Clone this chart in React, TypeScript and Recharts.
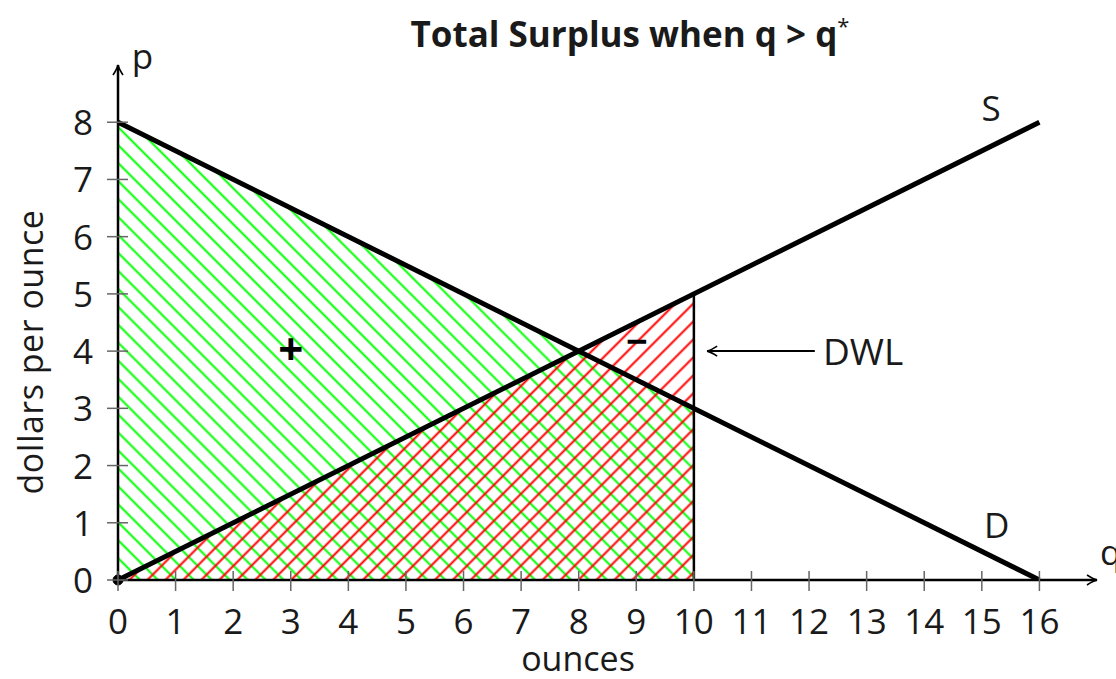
import { ComposedChart, Line, Area, XAxis, YAxis, ReferenceDot } from "recharts";

// demand / supply schedules (q = ounces, p = dollars per ounce)
const DEMAND = [
  { q: 0, p: 8 },
  { q: 16, p: 0 },
];
const SUPPLY = [
  { q: 0, p: 0 },
  { q: 16, p: 8 },
];
// area under demand up to q = 10 (benefit, green hatch)
const BENEFIT = [
  { q: 0, p: 8 },
  { q: 10, p: 3 },
];
// area under supply up to q = 10 (cost, red hatch)
const COST = [
  { q: 0, p: 0 },
  { q: 10, p: 5 },
];
const Q_MARK = [
  { q: 10, p: 0 },
  { q: 10, p: 5 },
];
const DWL_ARROW = [
  { q: 12.1, p: 4 },
  { q: 10.23, p: 4 },
];

const Q_TICKS = [0, 1, 2, 3, 4, 5, 6, 7, 8, 9, 10, 11, 12, 13, 14, 15, 16];
const P_TICKS = [0, 1, 2, 3, 4, 5, 6, 7, 8];

const FONT = "'Open Sans', sans-serif";
const INK = "#1a1a1a";

const XTick = (props: any) => {
  const { x, y, payload } = props;
  return (
    <g>
      <line x1={x} x2={x} y1={y - 9} y2={y + 11} stroke="#666" strokeWidth={1.5} />
      <text x={x} y={y + 54} textAnchor="middle" fontSize={35} fontFamily={FONT} fill={INK}>
        {payload.value}
      </text>
    </g>
  );
};

const YTick = (props: any) => {
  const { x, y, payload } = props;
  return (
    <g>
      <line x1={x - 11} x2={x + 10} y1={y} y2={y} stroke="#666" strokeWidth={1.5} />
      <text x={x - 25} y={y + 13} textAnchor="end" fontSize={35} fontFamily={FONT} fill={INK}>
        {payload.value}
      </text>
    </g>
  );
};

const textShape = (value: string, anchor: string, opts: any = {}) => (p: any) => (
  <text
    x={p.cx}
    y={p.cy}
    textAnchor={anchor}
    fontSize={35}
    fontFamily={FONT}
    fill={INK}
    {...opts}
  >
    {value}
  </text>
);

const arrowHead = (dir: "left" | "right" | "up") => (p: any) => {
  const { cx, cy } = p;
  let d = "";
  if (dir === "right") d = `M${cx - 10},${cy - 5} Q${cx - 4},${cy - 1} ${cx},${cy} Q${cx - 4},${cy + 1} ${cx - 10},${cy + 5}`;
  if (dir === "left") d = `M${cx + 10},${cy - 5} Q${cx + 4},${cy - 1} ${cx},${cy} Q${cx + 4},${cy + 1} ${cx + 10},${cy + 5}`;
  if (dir === "up") d = `M${cx - 5},${cy + 10} Q${cx - 1},${cy + 4} ${cx},${cy} Q${cx + 1},${cy + 4} ${cx + 5},${cy + 10}`;
  return <path d={d} fill="none" stroke="#000" strokeWidth={1.6} />;
};

export default function App() {
  return (
    <div style={{ position: "absolute", left: 0, top: 0, width: 1116, height: 679, background: "#fff", overflow: "hidden" }}>
      {/* hatch patterns */}
      <svg width={0} height={0} style={{ position: "absolute" }}>
        <defs>
          <pattern id="hatchGreen" patternUnits="userSpaceOnUse" width={12.7} height={12.7} patternTransform="rotate(-45)">
            <line x1={6.35} y1={-1} x2={6.35} y2={14} stroke="#00ff00" strokeWidth={2} />
          </pattern>
          <pattern id="hatchRed" patternUnits="userSpaceOnUse" width={12.7} height={12.7} patternTransform="rotate(45)">
            <line x1={6.35} y1={-1} x2={6.35} y2={14} stroke="#ff0000" strokeWidth={2} />
          </pattern>
        </defs>
      </svg>

      <ComposedChart width={1116} height={679} margin={{ top: 65, right: 19, bottom: 0, left: 58 }}>
        <XAxis
          type="number"
          dataKey="q"
          domain={[0, 17]}
          ticks={Q_TICKS}
          allowDataOverflow
          height={99}
          axisLine={{ stroke: "#000", strokeWidth: 2.5 }}
          tickLine={false}
          tickSize={0}
          tickMargin={0}
          tick={<XTick />}
          interval={0}
        />
        <YAxis
          type="number"
          dataKey="p"
          domain={[0, 9]}
          ticks={P_TICKS}
          allowDataOverflow
          width={60}
          axisLine={{ stroke: "#000", strokeWidth: 2.5 }}
          tickLine={false}
          tickSize={0}
          tickMargin={0}
          tick={<YTick />}
          interval={0}
        />

        <Area data={BENEFIT} dataKey="p" type="linear" stroke="none" fill="url(#hatchGreen)" fillOpacity={1} isAnimationActive={false} />
        <Area data={COST} dataKey="p" type="linear" stroke="none" fill="url(#hatchRed)" fillOpacity={1} isAnimationActive={false} />

        <Line data={Q_MARK} dataKey="p" type="linear" stroke="#000" strokeWidth={2.5} dot={false} activeDot={false} isAnimationActive={false} />
        <Line data={DEMAND} dataKey="p" type="linear" stroke="#000" strokeWidth={5} dot={false} activeDot={false} isAnimationActive={false} />
        <Line data={SUPPLY} dataKey="p" type="linear" stroke="#000" strokeWidth={5} dot={false} activeDot={false} isAnimationActive={false} />
        <Line data={DWL_ARROW} dataKey="p" type="linear" stroke="#000" strokeWidth={2} dot={false} activeDot={false} isAnimationActive={false} />

        {/* axis arrows, origin dot, arrow head */}
        <ReferenceDot x={17} y={0} ifOverflow="visible" shape={arrowHead("right")} />
        <ReferenceDot x={0} y={9} ifOverflow="visible" shape={arrowHead("up")} />
        <ReferenceDot x={10.23} y={4} ifOverflow="visible" shape={arrowHead("left")} />
        <ReferenceDot x={0} y={0} r={5} fill="#000" stroke="#000" ifOverflow="visible" />

        {/* annotations */}
        <ReferenceDot x={0.24} y={8.93} ifOverflow="visible" shape={textShape("p", "start")} />
        <ReferenceDot x={17.05} y={0.26} ifOverflow="visible" shape={textShape("q", "start")} />
        <ReferenceDot x={15.16} y={8.03} ifOverflow="visible" shape={textShape("S", "middle")} />
        <ReferenceDot x={15.26} y={0.73} ifOverflow="visible" shape={textShape("D", "middle")} />
        <ReferenceDot x={12.24} y={3.76} ifOverflow="visible" shape={textShape("DWL", "start", { fontSize: 37 })} />
        <ReferenceDot x={3} y={3.76} ifOverflow="visible" shape={textShape("+", "middle", { fontWeight: 700, fontSize: 44, fill: "#000" })} />
        <ReferenceDot x={9.01} y={3.93} ifOverflow="visible" shape={textShape("\u2212", "middle", { fontWeight: 700, fontSize: 38, fill: "#000" })} />
      </ComposedChart>

      {/* title and axis titles */}
      <svg width={1116} height={679} style={{ position: "absolute", left: 0, top: 0, pointerEvents: "none" }}>
        <text x={630} y={47} textAnchor="middle" fontSize={35} fontWeight={700} fontFamily={FONT} fill={INK}>
          Total Surplus when q &gt; q<tspan dy={-13} fontSize={22} fontWeight={400}>*</tspan>
        </text>
        <text x={578} y={671} textAnchor="middle" fontSize={34} fontFamily={FONT} fill={INK}>
          ounces
        </text>
        <text
          x={30}
          y={352}
          textAnchor="middle"
          dominantBaseline="central"
          fontSize={34}
          letterSpacing={0.5}
          fontFamily={FONT}
          fill={INK}
          transform="rotate(-90 30 352)"
        >
          dollars per ounce
        </text>
      </svg>
    </div>
  );
}
